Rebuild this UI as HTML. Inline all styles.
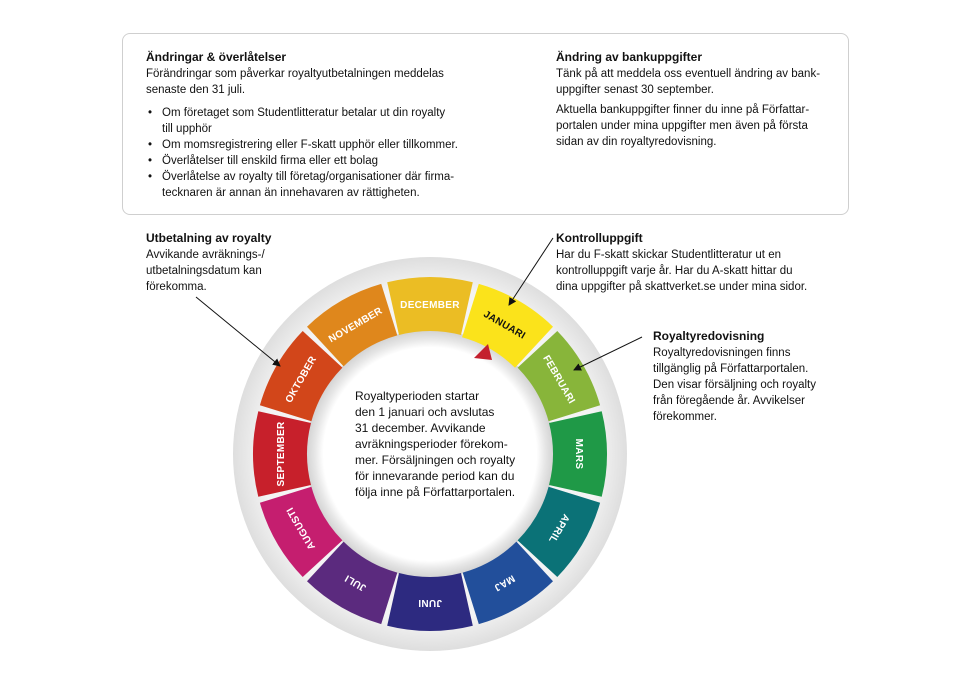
<!DOCTYPE html>
<html><head><meta charset="utf-8"><style>
body{margin:0;width:960px;height:679px;background:#fff;position:relative;overflow:hidden;font-family:"Liberation Sans",sans-serif;color:#111;font-size:11.5px;}
.t{position:absolute;line-height:16px;white-space:nowrap;}
b{font-weight:bold;font-size:12px;}
.box{position:absolute;left:122px;top:33px;width:725px;height:180px;border:1px solid #cfcfcf;border-radius:8px;}
ul{margin:0;padding:0;list-style:none;}
li{position:relative;padding-left:16px;}
li:before{content:"•";position:absolute;left:2px;}
</style></head><body>
<div class="box"></div>
<div class="t" style="left:146px;top:49px;"><b>Ändringar &amp; överlåtelser</b><br>Förändringar som påverkar royaltyutbetalningen meddelas<br>senaste den 31 juli.</div>
<div class="t" style="left:146px;top:105px;"><ul><li>Om företaget som Studentlitteratur betalar ut din royalty<br>till upphör</li><li>Om momsregistrering eller F-skatt upphör eller tillkommer.</li><li>Överlåtelser till enskild firma eller ett bolag</li><li>Överlåtelse av royalty till företag/organisationer där firma-<br>tecknaren är annan än innehavaren av rättigheten.</li></ul></div>
<div class="t" style="left:556px;top:49px;"><b>Ändring av bankuppgifter</b><br>Tänk på att meddela oss eventuell ändring av bank-<br>uppgifter senast 30 september.</div>
<div class="t" style="left:556px;top:102px;">Aktuella bankuppgifter finner du inne på Författar-<br>portalen under mina uppgifter men även på första<br>sidan av din royaltyredovisning.</div>
<div class="t" style="left:146px;top:230px;"><b>Utbetalning av royalty</b><br>Avvikande avräknings-/<br>utbetalningsdatum kan<br>förekomma.</div>
<div class="t" style="left:556px;top:230px;"><b>Kontrolluppgift</b><br>Har du F-skatt skickar Studentlitteratur ut en<br>kontrolluppgift varje år. Har du A-skatt hittar du<br>dina uppgifter på skattverket.se under mina sidor.</div>
<div class="t" style="left:653px;top:328px;"><b>Royaltyredovisning</b><br>Royaltyredovisningen finns<br>tillgänglig på Författarportalen.<br>Den visar försäljning och royalty<br>från föregående år. Avvikelser<br>förekommer.</div>
<svg width="960" height="679" style="position:absolute;left:0;top:0" xmlns="http://www.w3.org/2000/svg">
<defs>
<radialGradient id="g1"><stop offset="0.85" stop-color="#f4f4f4"/><stop offset="1" stop-color="#dedede"/></radialGradient>
<radialGradient id="g2"><stop offset="0.86" stop-color="#ffffff"/><stop offset="0.93" stop-color="#e6e6e6"/><stop offset="1" stop-color="#d2d2d2"/></radialGradient>
<marker id="ar" markerWidth="8" markerHeight="8" refX="7" refY="4" orient="auto" markerUnits="userSpaceOnUse"><path d="M0,0 L8,4 L0,8 z" fill="#111"/></marker>
</defs>
<circle cx="430" cy="454" r="197" fill="url(#g1)"/>
<circle cx="430" cy="454" r="124" fill="url(#g2)"/>
<g id="segs"></g>
<path d="M474,358 L488,344 L492,360 Z" fill="#c4202e"/>
<line x1="196" y1="297" x2="280" y2="366" stroke="#111" stroke-width="1" marker-end="url(#ar)"/>
<line x1="553" y1="238" x2="509" y2="305" stroke="#111" stroke-width="1" marker-end="url(#ar)"/>
<line x1="642" y1="337" x2="574" y2="370" stroke="#111" stroke-width="1" marker-end="url(#ar)"/>
</svg>
<div class="t" style="left:355px;top:388px;font-size:12px;">Royaltyperioden startar<br>den 1 januari och avslutas<br>31 december. Avvikande<br>avräkningsperioder förekom-<br>mer. Försäljningen och royalty<br>för innevarande period kan du<br>följa inne på Författarportalen.</div>
<script>
var months=[["DECEMBER","#ebbd24"],["JANUARI","#fbe31b"],["FEBRUARI","#88b53a"],["MARS","#1f9947"],["APRIL","#0b7277"],["MAJ","#224f9b"],["JUNI","#2d2a80"],["JULI","#5b2a7e"],["AUGUSTI","#c51e6f"],["SEPTEMBER","#c7202b"],["OKTOBER","#d2461a"],["NOVEMBER","#df871c"]];
var cx=430,cy=454,R=177,r=123,g=document.getElementById("segs"),h="";
function p(a,rad){a=(a-90)*Math.PI/180;return (cx+rad*Math.cos(a)).toFixed(1)+","+(cy+rad*Math.sin(a)).toFixed(1);}
months.forEach(function(m,i){var th=i*30,a1=th-14,a2=th+14;
var ri=(i==1)?r-2:r;
h+='<path d="M'+p(a1,R)+' A'+R+','+R+' 0 0 1 '+p(a2,R)+' L'+p(a2+0.6,ri)+' A'+ri+','+ri+' 0 0 0 '+p(a1-0.6,ri)+' Z" fill="'+m[1]+'"/>';
h+='<text transform="rotate('+th+' '+cx+' '+cy+')" x="'+cx+'" y="'+(cy-150+4)+'" text-anchor="middle" font-family="Liberation Sans, sans-serif" font-size="10" font-weight="bold" fill="'+(i==1?'#111':'#fff')+'" letter-spacing="0.3">'+m[0]+'</text>';});
g.innerHTML=h;
</script>
</body></html>
